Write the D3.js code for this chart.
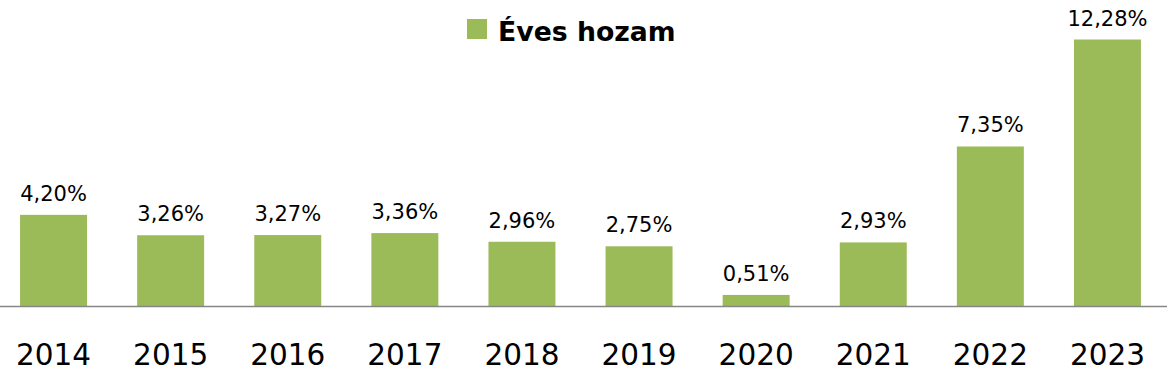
<!DOCTYPE html>
<html>
<head>
<meta charset="utf-8">
<script src="https://cdn.jsdelivr.net/npm/d3@7"></script>
<style>
html,body{margin:0;padding:0;background:#fff;}
svg{display:block;}
</style>
</head>
<body>
<svg id="chart" width="1170" height="377"></svg>
<script>
const years = ["2014","2015","2016","2017","2018","2019","2020","2021","2022","2023"];
const returns = [4.20, 3.26, 3.27, 3.36, 2.96, 2.75, 0.51, 2.93, 7.35, 12.28];
const seriesName = "Éves hozam";

const W = 1170, H = 377;
const baseY = 306;
const svg = d3.select("#chart");
const barColor = "#9BBB59";

const x = d3.scaleBand().domain(years).range([-5, 1166]).paddingInner(0.428).paddingOuter(0.214);
const y = d3.scaleLinear().domain([0, 12.28]).range([baseY, 39.5]);

const fmt = v => d3.format(".2f")(v).replace(".", ",") + "%";

svg.selectAll("rect.bar").data(years).join("rect")
  .attr("class","bar")
  .attr("x", d => x(d))
  .attr("width", x.bandwidth())
  .attr("y", (d,i) => y(returns[i]))
  .attr("height", (d,i) => baseY - y(returns[i]))
  .attr("fill", barColor);

// axis line
svg.append("line")
  .attr("x1", 0).attr("x2", 1167)
  .attr("y1", baseY + 0.5).attr("y2", baseY + 0.5)
  .attr("stroke", "#868686").attr("stroke-width", 1.5);

// value labels
svg.selectAll("text.val").data(years).join("text")
  .attr("class","val")
  .attr("x", d => x(d) + x.bandwidth()/2)
  .attr("y", (d,i) => y(returns[i]) - 14)
  .attr("text-anchor","middle")
  .attr("font-family","DejaVu Sans, sans-serif")
  .attr("font-size", 21)
  .attr("fill","#000")
  .text((d,i) => fmt(returns[i]));

// category axis labels
const xAxis = d3.axisBottom(x).tickSize(0).tickPadding(0);
const gx = svg.append("g").attr("transform", `translate(0,${baseY})`).call(xAxis);
gx.select(".domain").remove();
gx.selectAll("text")
  .attr("y", 59).attr("dy", 0)
  .attr("font-family","DejaVu Sans, sans-serif")
  .attr("font-size", 29.5)
  .attr("fill","#000");

// legend
const lg = svg.append("g");
lg.append("rect").attr("x", 467).attr("y", 19).attr("width", 20).attr("height", 20).attr("fill", barColor);
lg.append("text").attr("x", 498).attr("y", 41)
  .attr("font-family","DejaVu Sans, sans-serif")
  .attr("font-weight","bold")
  .attr("font-size", 26.7)
  .attr("fill","#000")
  .text(seriesName);
</script>
</body>
</html>
